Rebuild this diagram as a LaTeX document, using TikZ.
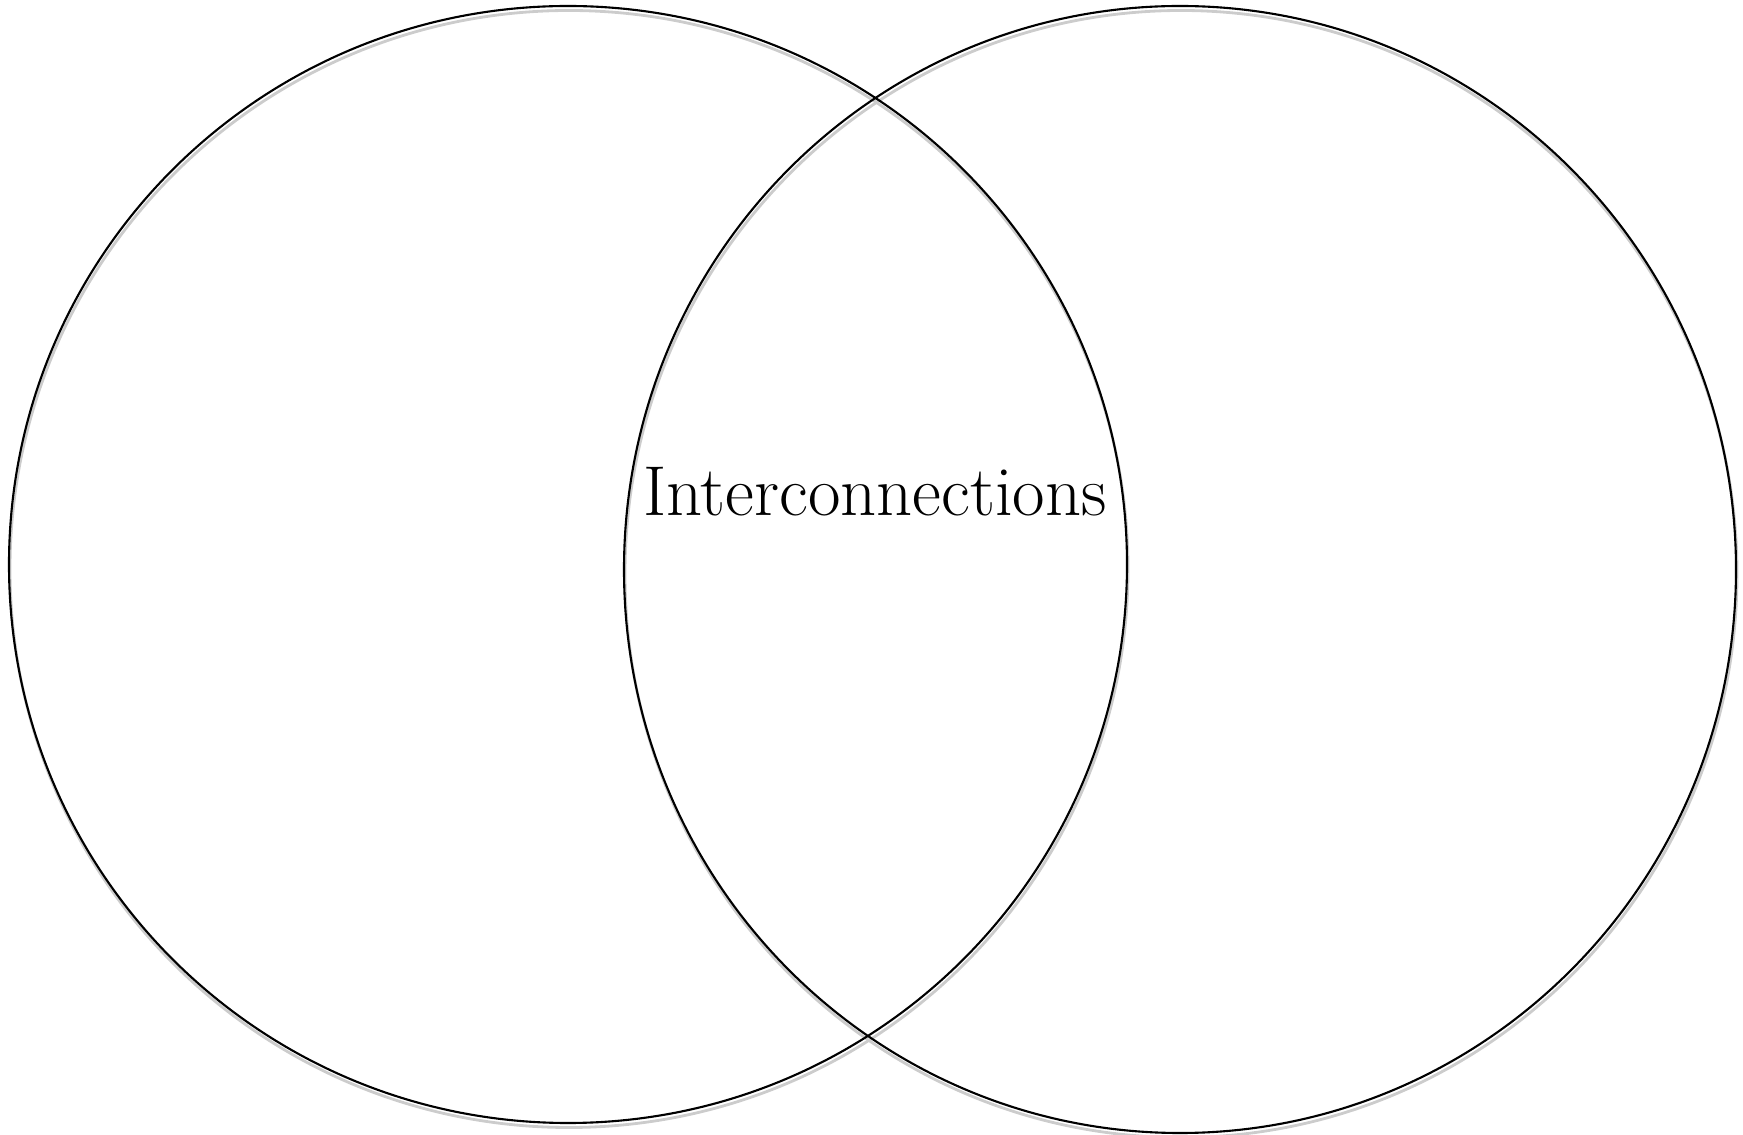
\documentclass[tikz,border=0pt]{standalone}
\usepackage{tikz}
\usetikzlibrary{calc}
\tikzstyle{ring} = [line width=0.6pt, black]
\tikzstyle{ringshadow} = [line width=0.8pt, black!20]

\begin{document}
\begin{tikzpicture}

						\useasboundingbox (0,0) rectangle (17.43, 11.34);

						\coordinate (L) at (5.68, 5.695);
						\coordinate (R) at (11.80, 5.645);

						\draw[ringshadow] ($(L)+(0.01,-0.045)$) ellipse (5.59 and 5.585);
						\draw[ringshadow] ($(R)+(0.01,-0.045)$) ellipse (5.56 and 5.635);

						\draw[ring] (L) ellipse (5.59 and 5.585);
						\draw[ring] (R) ellipse (5.56 and 5.635);

						\node[anchor=base, inner sep=0pt] (overlap) at (8.75, 6.18) {\fontsize{20.1}{24}\selectfont Interconnections};

					\end{tikzpicture}
\end{document}
